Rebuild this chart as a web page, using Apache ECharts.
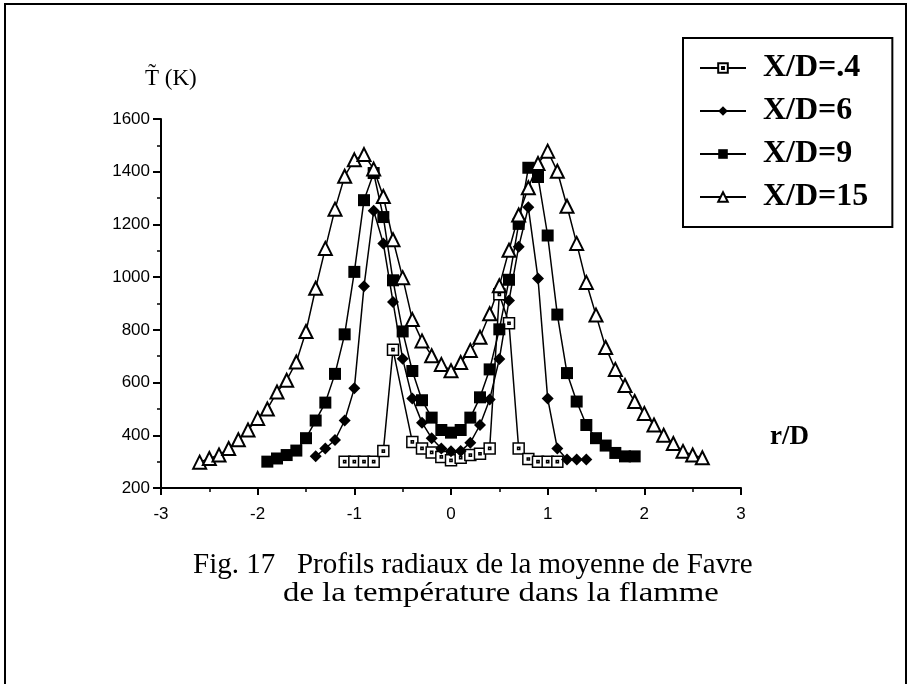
<!DOCTYPE html>
<html>
<head>
<meta charset="utf-8">
<script src="https://cdn.jsdelivr.net/npm/echarts@6/dist/echarts.min.js"></script>
<style>
  html, body { margin: 0; padding: 0; background: #fff; }
  #chart { width: 911px; height: 684px; }
</style>
</head>
<body>
<div id="chart"></div>
<script>
// r/D positions and mean Favre temperature (K) for each station
const xd04R = [-1.1, -1.0, -0.9, -0.8, -0.7, -0.6, -0.4, -0.3, -0.2, -0.1, 0, 0.1, 0.2, 0.3, 0.4, 0.5, 0.6, 0.7, 0.8, 0.9, 1.0, 1.1]
const xd04T = [300, 300, 300, 300, 340, 725, 375, 350, 335, 318, 305, 315, 325, 330, 350, 935, 825, 350, 310, 300, 300, 300]

const xd6R = [-1.4, -1.3, -1.2, -1.1, -1.0, -0.9, -0.8, -0.7, -0.6, -0.5, -0.4, -0.3, -0.2, -0.1, 0, 0.1, 0.2, 0.3, 0.4, 0.5, 0.6, 0.7, 0.8, 0.9, 1.0, 1.1, 1.2, 1.3, 1.4]
const xd6T = [320, 350, 382, 456, 578, 965, 1252, 1128, 906, 690, 540, 448, 389, 350, 339, 340, 372, 439, 536, 689, 911, 1115, 1265, 995, 540, 350, 308, 308, 308]

const xd9R = [-1.9, -1.8, -1.7, -1.6, -1.5, -1.4, -1.3, -1.2, -1.1, -1.0, -0.9, -0.8, -0.7, -0.6, -0.5, -0.4, -0.3, -0.2, -0.1, 0, 0.1, 0.2, 0.3, 0.4, 0.5, 0.6, 0.7, 0.8, 0.9, 1.0, 1.1, 1.2, 1.3, 1.4, 1.5, 1.6, 1.7, 1.8, 1.9]
const xd9T = [300, 312, 325, 342, 389, 456, 524, 633, 783, 1020, 1292, 1395, 1228, 988, 794, 644, 533, 467, 420, 410, 420, 467, 544, 650, 802, 990, 1202, 1415, 1380, 1158, 858, 636, 528, 439, 389, 361, 333, 320, 320]

const xd15R = [-2.6, -2.5, -2.4, -2.3, -2.2, -2.1, -2.0, -1.9, -1.8, -1.7, -1.6, -1.5, -1.4, -1.3, -1.2, -1.1, -1.0, -0.9, -0.8, -0.7, -0.6, -0.5, -0.4, -0.3, -0.2, -0.1, 0, 0.1, 0.2, 0.3, 0.4, 0.5, 0.6, 0.7, 0.8, 0.9, 1.0, 1.1, 1.2, 1.3, 1.4, 1.5, 1.6, 1.7, 1.8, 1.9, 2.0, 2.1, 2.2, 2.3, 2.4, 2.5, 2.6]
const xd15T = [298, 312, 325, 350, 383, 420, 464, 500, 564, 609, 678, 794, 958, 1109, 1258, 1383, 1445, 1465, 1410, 1306, 1142, 998, 839, 758, 702, 669, 645, 676, 722, 772, 861, 967, 1102, 1236, 1339, 1431, 1478, 1402, 1269, 1128, 980, 856, 733, 650, 589, 528, 483, 439, 400, 369, 339, 325, 315]

const seriesNames = ['X/D=.4', 'X/D=6', 'X/D=9', 'X/D=15']

const chart = echarts.init(document.getElementById('chart'))

const zip = (rs, ts) => rs.map((r, i) => [r, ts[i]])

const baseLine = {
  type: 'line',
  showAllSymbol: true,
  lineStyle: { color: '#000', width: 1.5 },
  emphasis: { disabled: true },
  animation: false
}

const option = {
  backgroundColor: '#fff',
  animation: false,
  grid: { left: 161, right: 170, top: 119, bottom: 196 },
  legend: {
    orient: 'vertical',
    left: 683,
    top: 38,
    padding: [14, 24, 14, 16],
    itemGap: 11,
    itemWidth: 46,
    itemHeight: 12,
    borderColor: '#000',
    borderWidth: 2,
    data: seriesNames,
    textStyle: {
      fontFamily: 'Liberation Serif',
      fontWeight: 'bold',
      fontSize: 32,
      color: '#000',
      padding: [0, 0, 0, 12]
    }
  },
  xAxis: {
    type: 'value',
    min: -3,
    max: 3,
    interval: 1,
    axisLine: { lineStyle: { color: '#000', width: 2 } },
    axisTick: { inside: false, length: 7, lineStyle: { color: '#000', width: 2 } },
    minorTick: { show: true, splitNumber: 2, length: 4, lineStyle: { color: '#000', width: 1.5 } },
    splitLine: { show: false },
    axisLabel: { color: '#000', fontFamily: 'Liberation Sans', fontSize: 17, margin: 18 }
  },
  yAxis: {
    type: 'value',
    min: 200,
    max: 1600,
    interval: 200,
    axisLine: { show: true, onZero: false, lineStyle: { color: '#000', width: 2 } },
    axisTick: { show: true, length: 8, lineStyle: { color: '#000', width: 2 } },
    minorTick: { show: true, splitNumber: 2, length: 4, lineStyle: { color: '#000', width: 1.5 } },
    splitLine: { show: false },
    axisLabel: { color: '#000', fontFamily: 'Liberation Sans', fontSize: 17, margin: 11, formatter: v => String(v) }
  },
  graphic: [
    { type: 'polyline', shape: { points: [[5, 684], [5, 4], [906, 4], [906, 684]] }, style: { stroke: '#000', lineWidth: 2, fill: null } },
    { type: 'text', left: 145, top: 67, style: { text: 'T\u0303 (K)', font: '23px "Liberation Serif"', fill: '#000' } },
    { type: 'text', left: 770, top: 424, style: { text: 'r/D', font: 'bold 27px "Liberation Serif"', fill: '#000' } },
    { type: 'text', left: 193, top: 551, style: { text: 'Fig. 17   Profils radiaux de la moyenne de Favre', font: '29px "Liberation Serif"', fill: '#000' } },
    { type: 'text', x: 283, y: 580, scaleX: 1.17, style: { text: 'de la température dans la flamme', font: '28px "Liberation Serif"', fill: '#000' } }
  ],
  series: [
    Object.assign({}, baseLine, {
      name: seriesNames[0],
      data: zip(xd04R, xd04T),
      symbol: 'path://M0 0H20V20H0Z M8 8H12V12H8Z',
      symbolSize: 11,
      itemStyle: { color: '#fff', borderColor: '#000', borderWidth: 1.5 }
    }),
    Object.assign({}, baseLine, {
      name: seriesNames[1],
      data: zip(xd6R, xd6T),
      symbol: 'diamond',
      symbolSize: 12,
      itemStyle: { color: '#000' }
    }),
    Object.assign({}, baseLine, {
      name: seriesNames[2],
      data: zip(xd9R, xd9T),
      symbol: 'rect',
      symbolSize: 12,
      itemStyle: { color: '#000' }
    }),
    Object.assign({}, baseLine, {
      name: seriesNames[3],
      data: zip(xd15R, xd15T),
      symbol: 'emptyTriangle',
      symbolSize: 13,
      itemStyle: { color: '#000', borderWidth: 1.5 }
    })
  ]
}

chart.setOption(option)
</script>
</body>
</html>
